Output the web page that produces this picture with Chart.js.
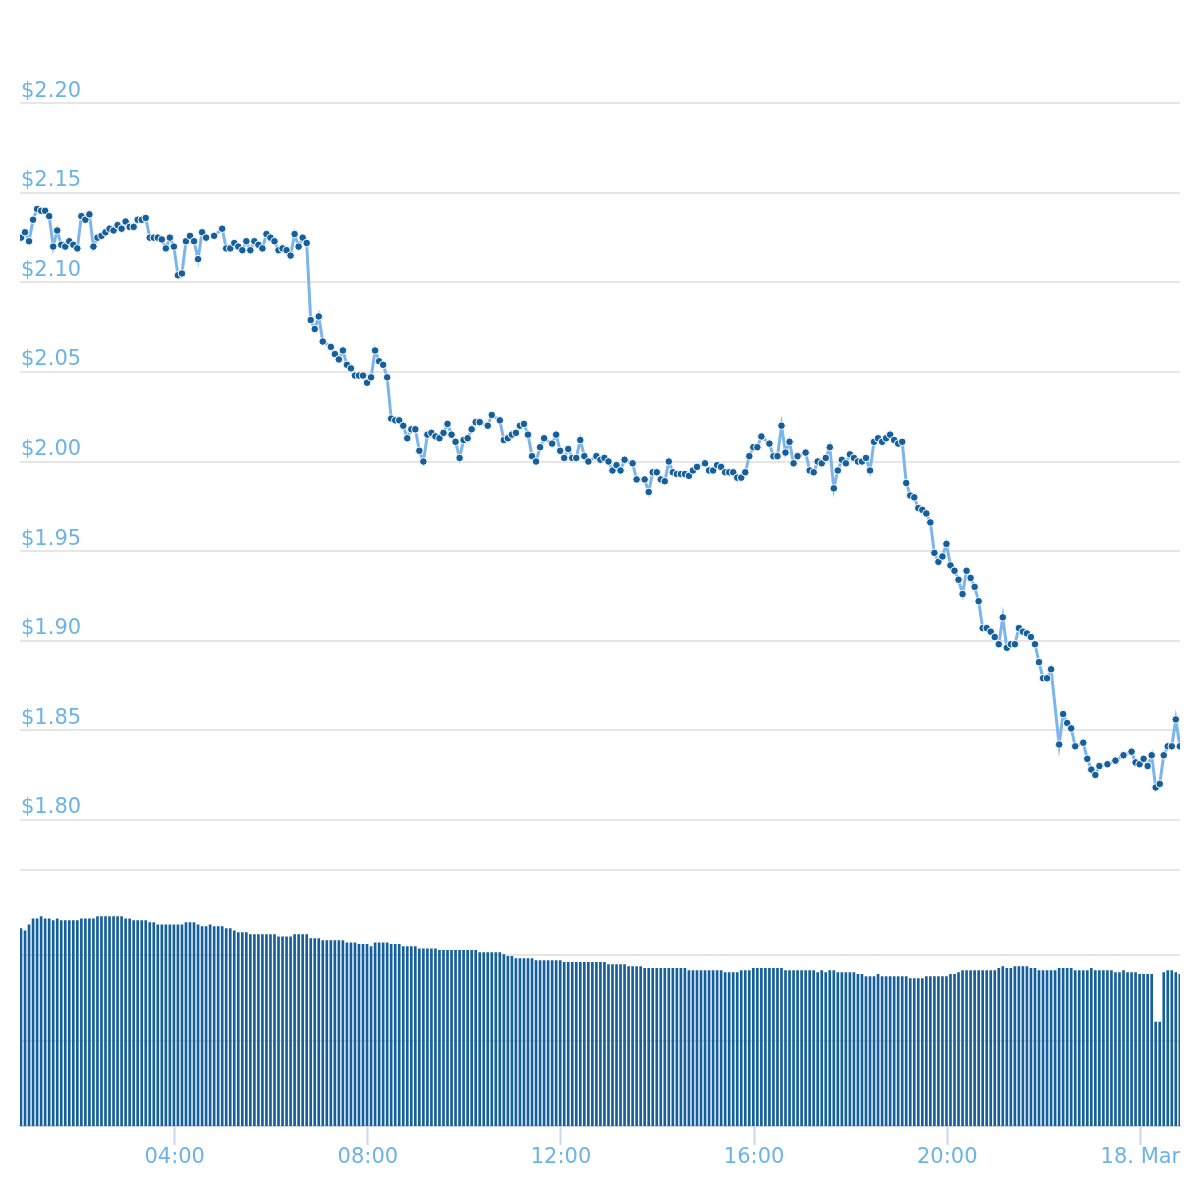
<!DOCTYPE html>
<html>
<head>
<meta charset="utf-8">
<script src="https://cdn.jsdelivr.net/npm/chart.js@4.4.1/dist/chart.umd.min.js"></script>
<style>
  html, body { margin: 0; padding: 0; background: #fff; }
  #wrap { width: 1200px; height: 1200px; }
</style>
</head>
<body>
<div id="wrap"><canvas id="chart" width="1200" height="1200"></canvas></div>
<script>
// 5-minute samples, 17 Mar 00:49 -> 18 Mar 00:49 (minutes since 17 Mar 00:00)
const startMinute = 49;
const stepMinutes = 5;

// price in USD, null where no marker could be read
const prices = [
  2.125, 2.128, 2.123, 2.135, 2.141, 2.140, 2.140, 2.137, 2.120, 2.129,
  2.121, 2.120, 2.123, 2.121, 2.119, 2.137, 2.135, 2.138, 2.120, 2.125,
  2.126, 2.128, 2.130, 2.129, 2.132, 2.130, 2.134, 2.131, 2.131, 2.135,
  2.135, 2.136, 2.125, 2.125, 2.125, 2.124, 2.119, 2.125, 2.120, 2.104,
  2.105, 2.123, 2.126, 2.123, 2.113, 2.128, 2.125, null, 2.126, null,
  2.130, 2.119, 2.119, 2.122, 2.120, 2.118, 2.123, 2.118, 2.123, 2.121,
  2.119, 2.127, 2.125, 2.123, 2.118, 2.119, 2.118, 2.115, 2.127, 2.120,
  2.125, 2.122, 2.079, 2.074, 2.081, 2.067, null, 2.064, 2.060, 2.057,
  2.062, 2.054, 2.052, 2.048, 2.048, 2.048, 2.044, 2.047, 2.062, 2.056,
  2.054, 2.047, 2.024, 2.023, 2.023, 2.020, 2.013, 2.018, 2.018, 2.006,
  2.000, 2.015, 2.016, 2.014, 2.013, 2.016, 2.021, 2.015, 2.011, 2.002,
  2.012, 2.013, 2.018, 2.022, 2.022, null, 2.020, 2.026, null, 2.023,
  2.012, 2.013, 2.015, 2.016, 2.020, 2.021, 2.015, 2.003, 2.000, 2.008,
  2.013, null, 2.010, 2.015, 2.006, 2.002, 2.007, 2.002, 2.002, 2.012,
  2.003, 2.000, null, 2.003, 2.001, 2.002, 2.000, 1.995, 1.998, 1.995,
  2.001, null, 1.999, 1.990, null, 1.990, 1.983, 1.994, 1.994, 1.990,
  1.989, 2.000, 1.994, 1.993, 1.993, 1.993, 1.992, 1.995, 1.997, null,
  1.999, 1.995, 1.995, 1.998, 1.997, 1.994, 1.994, 1.994, 1.991, 1.991,
  1.994, 2.003, 2.008, 2.008, 2.014, null, 2.010, 2.003, 2.003, 2.020,
  2.005, 2.011, 1.999, 2.003, null, 2.005, 1.995, 1.994, 2.000, 1.999,
  2.002, 2.008, 1.985, 1.995, 2.001, 1.999, 2.004, 2.002, 2.000, 2.000,
  2.002, 1.995, 2.011, 2.013, 2.011, 2.013, 2.015, 2.012, 2.010, 2.011,
  1.988, 1.981, 1.980, 1.974, 1.973, 1.971, 1.966, 1.949, 1.944, 1.947,
  1.954, 1.942, 1.939, 1.934, 1.926, 1.939, 1.935, 1.930, 1.922, 1.907,
  1.907, 1.905, 1.902, 1.898, 1.913, 1.896, 1.898, 1.898, 1.907, 1.905,
  1.904, 1.902, 1.898, 1.888, 1.879, 1.879, 1.884, null, 1.842, 1.859,
  1.854, 1.851, 1.841, null, 1.843, 1.834, 1.828, 1.825, 1.830, null,
  1.831, null, 1.833, null, 1.836, null, 1.838, 1.832, 1.831, 1.834,
  1.830, 1.836, 1.818, 1.820, 1.836, 1.841, 1.841, 1.856, 1.841
];

// traded volume, millions
const volumes = [
  46.2, 45.7, 47.1, 48.5, 48.5, 49.0, 48.5, 48.5, 48.1, 48.5,
  48.1, 48.1, 48.1, 48.1, 48.1, 48.5, 48.5, 48.5, 48.5, 49.0,
  49.0, 49.0, 49.0, 49.0, 49.0, 49.0, 48.5, 48.5, 48.1, 48.1,
  48.1, 48.1, 47.6, 47.6, 47.1, 47.1, 47.1, 47.1, 47.1, 47.1,
  47.1, 47.6, 47.6, 47.6, 47.1, 46.7, 46.7, 47.1, 46.7, 46.7,
  46.7, 46.2, 46.2, 45.7, 45.3, 45.3, 45.3, 44.8, 44.8, 44.8,
  44.8, 44.8, 44.8, 44.8, 44.3, 44.3, 44.3, 44.3, 44.8, 44.8,
  44.8, 44.8, 43.9, 43.9, 43.9, 43.4, 43.4, 43.4, 43.4, 43.4,
  43.4, 42.9, 42.9, 42.9, 42.5, 42.5, 42.5, 42.0, 42.9, 42.9,
  42.9, 42.9, 42.5, 42.5, 42.5, 42.0, 42.0, 42.0, 42.0, 41.5,
  41.5, 41.5, 41.5, 41.5, 41.1, 41.1, 41.1, 41.1, 41.1, 41.1,
  41.1, 41.1, 41.1, 41.1, 40.6, 40.6, 40.6, 40.6, 40.6, 40.6,
  40.1, 39.7, 39.7, 39.2, 39.2, 39.2, 39.2, 39.2, 38.7, 38.7,
  38.7, 38.7, 38.7, 38.7, 38.7, 38.3, 38.3, 38.3, 38.3, 38.3,
  38.3, 38.3, 38.3, 38.3, 38.3, 38.3, 37.8, 37.8, 37.8, 37.8,
  37.8, 37.3, 37.3, 37.3, 37.3, 36.9, 36.9, 36.9, 36.9, 36.9,
  36.9, 36.9, 36.9, 36.9, 36.9, 36.9, 36.4, 36.4, 36.4, 36.4,
  36.4, 36.4, 36.4, 36.4, 36.4, 35.9, 35.9, 35.9, 35.9, 36.4,
  36.4, 36.4, 36.9, 36.9, 36.9, 36.9, 36.9, 36.9, 36.9, 36.9,
  36.4, 36.4, 36.4, 36.4, 36.4, 36.4, 36.4, 36.4, 35.9, 36.4,
  35.9, 36.4, 36.4, 35.9, 35.9, 35.9, 35.9, 35.9, 35.5, 35.5,
  35.0, 35.0, 35.0, 35.5, 35.0, 35.0, 35.0, 35.0, 35.0, 35.0,
  35.0, 34.5, 34.5, 34.5, 34.5, 35.0, 35.0, 35.0, 35.0, 35.0,
  35.0, 35.5, 35.5, 35.9, 36.4, 36.4, 36.4, 36.4, 36.4, 36.4,
  36.4, 36.4, 36.4, 36.9, 37.3, 36.9, 36.9, 37.3, 37.3, 37.3,
  37.3, 36.9, 36.9, 36.4, 36.4, 36.4, 36.4, 36.4, 36.9, 36.9,
  36.9, 36.9, 36.4, 36.4, 36.4, 36.4, 36.9, 36.4, 36.4, 36.4,
  36.4, 36.4, 35.9, 35.9, 36.4, 35.9, 35.9, 35.9, 35.5, 35.5,
  35.5, 35.5, 24.3, 24.3, 35.9, 36.4, 36.4, 35.9, 35.5
];

const priceTicks = [1.80, 1.85, 1.90, 1.95, 2.00, 2.05, 2.10, 2.15, 2.20];
const volumeTicks = [20, 40, 60];
const timeTicks = [240, 480, 720, 960, 1200, 1440];
const timeTickLabels = ['04:00', '08:00', '12:00', '16:00', '20:00', '18. Mar'];

const times = prices.map((_, i) => startMinute + i * stepMinutes);
const pricePoints = prices.map((p, i) => ({ x: times[i], y: p }));
const volumePoints = volumes.map((v, i) => ({ x: times[i], y: v }));

const labelColor = '#6cb3e6';
const labelFont = { family: 'DejaVu Sans', size: 21 };
const darkBlue = '#15609c';

new Chart(document.getElementById('chart'), {
  type: 'line',
  data: {
    datasets: [
      {
        type: 'line',
        label: 'Price',
        data: pricePoints,
        yAxisID: 'price',
        borderColor: '#7cb5ec',
        borderWidth: 3,
        pointRadius: 3.8,
        pointBackgroundColor: darkBlue,
        pointBorderColor: '#ffffff',
        pointBorderWidth: 1,
        tension: 0,
        spanGaps: true,
        order: 0
      },
      {
        type: 'bar',
        label: 'Volume',
        data: volumePoints,
        yAxisID: 'vol',
        backgroundColor: darkBlue,
        barThickness: 2,
        order: 1
      }
    ]
  },
  options: {
    responsive: false,
    animation: false,
    layout: { padding: { left: 20, right: 20, top: 7, bottom: 0 } },
    plugins: { legend: { display: false }, tooltip: { enabled: false } },
    scales: {
      x: {
        type: 'linear',
        min: 47.76,
        max: 1489.2,
        offset: false,
        afterBuildTicks: (axis) => { axis.ticks = timeTicks.map(v => ({ value: v })); },
        afterFit: (axis) => { axis.height = 74; },
        grid: {
          offset: false,
          drawOnChartArea: false,
          drawTicks: true,
          tickLength: 19,
          tickColor: '#ccd6eb',
          tickWidth: 2
        },
        border: { color: '#ccd6eb', width: 2 },
        ticks: {
          autoSkip: false,
          maxRotation: 0,
          padding: 0,
          color: labelColor,
          font: labelFont,
          callback: (v) => {
            const i = timeTicks.indexOf(v);
            return i >= 0 ? timeTickLabels[i] : '';
          }
        }
      },
      price: {
        type: 'linear',
        position: 'left',
        min: 1.629,
        max: 2.2501,
        afterBuildTicks: (axis) => { axis.ticks = priceTicks.map(v => ({ value: v })); },
        afterFit: (axis) => { axis.width = 0; },
        grid: { color: '#e6e6e6', lineWidth: 2, drawTicks: false },
        border: { display: false },
        ticks: {
          mirror: true,
          padding: 1,
          labelOffset: -12,
          color: labelColor,
          font: labelFont,
          callback: (v) => '$' + Number(v).toFixed(2)
        }
      },
      vol: {
        type: 'linear',
        position: 'left',
        min: 0,
        max: 260.4,
        afterBuildTicks: (axis) => { axis.ticks = volumeTicks.map(v => ({ value: v })); },
        afterFit: (axis) => { axis.width = 0; },
        grid: { color: '#e6e6e6', lineWidth: 2, drawTicks: false },
        border: { display: false },
        ticks: { display: false }
      }
    }
  }
});
</script>
</body>
</html>
